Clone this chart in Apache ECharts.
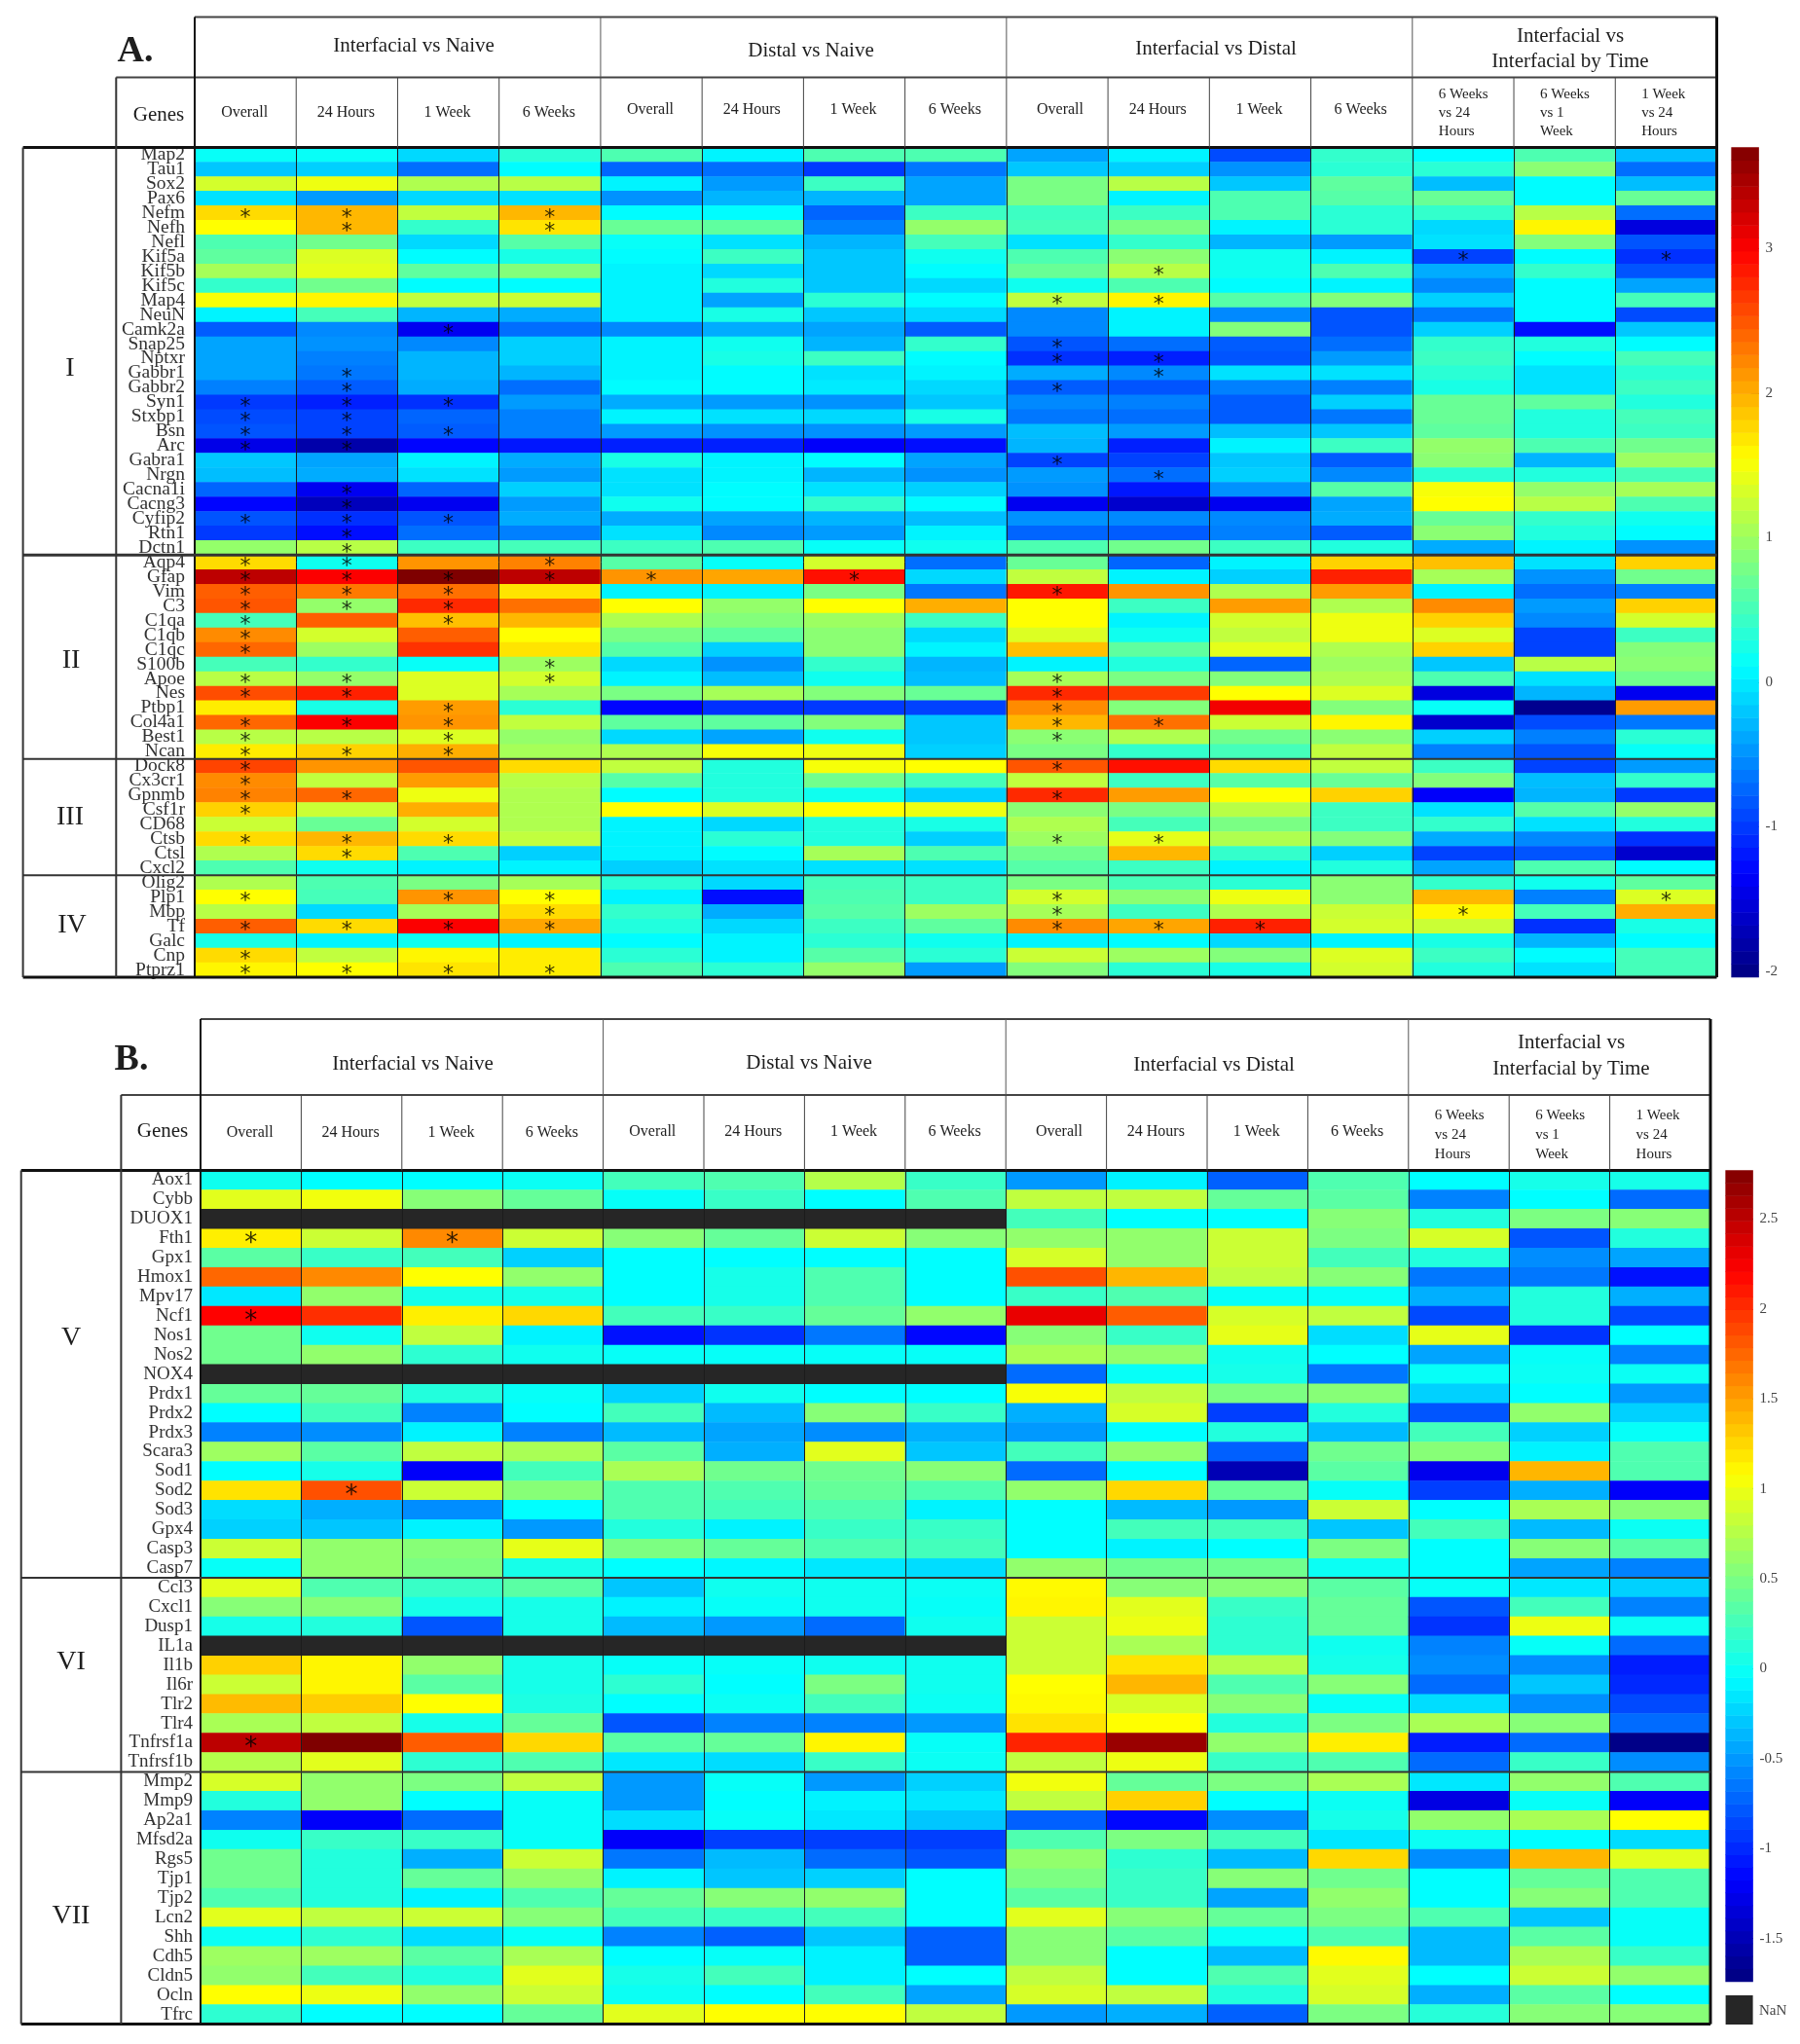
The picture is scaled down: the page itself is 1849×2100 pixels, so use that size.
<!DOCTYPE html>
<html><head><meta charset="utf-8">
<style>html,body{margin:0;padding:0;background:#fff}#c{width:1849px;height:2100px}</style>
<script src="https://cdn.jsdelivr.net/npm/echarts@6/dist/echarts.min.js"></script>
</head><body><div id="c"></div>
<script>
// ---------- categories ----------
const genesA = ['Map2','Tau1','Sox2','Pax6','Nefm','Nefh','Nefl','Kif5a','Kif5b','Kif5c','Map4','NeuN','Camk2a','Snap25','Nptxr','Gabbr1','Gabbr2','Syn1','Stxbp1','Bsn','Arc','Gabra1','Nrgn','Cacna1i','Cacng3','Cyfip2','Rtn1','Dctn1',
 'Aqp4','Gfap','Vim','C3','C1qa','C1qb','C1qc','S100b','Apoe','Nes','Ptbp1','Col4a1','Best1','Ncan',
 'Dock8','Cx3cr1','Gpnmb','Csf1r','CD68','Ctsb','Ctsl','Cxcl2',
 'Olig2','Plp1','Mbp','Tf','Galc','Cnp','Ptprz1'];
const genesB = ['Aox1','Cybb','DUOX1','Fth1','Gpx1','Hmox1','Mpv17','Ncf1','Nos1','Nos2','NOX4','Prdx1','Prdx2','Prdx3','Scara3','Sod1','Sod2','Sod3','Gpx4','Casp3','Casp7',
 'Ccl3','Cxcl1','Dusp1','IL1a','Il1b','Il6r','Tlr2','Tlr4','Tnfrsf1a','Tnfrsf1b',
 'Mmp2','Mmp9','Ap2a1','Mfsd2a','Rgs5','Tjp1','Tjp2','Lcn2','Shh','Cdh5','Cldn5','Ocln','Tfrc'];
const columnLabels = ['Overall','24 Hours','1 Week','6 Weeks','Overall','24 Hours','1 Week','6 Weeks','Overall','24 Hours','1 Week','6 Weeks','6 Weeks\nvs 24\nHours','6 Weeks\nvs 1\nWeek','1 Week\nvs 24\nHours'];
const groupLabels = ['Interfacial vs Naive','Distal vs Naive','Interfacial vs Distal','Interfacial vs\nInterfacial by Time'];
const ticksA = [-2,-1,0,1,2,3];
const ticksB = [-1.5,-1,-0.5,0,0.5,1,1.5,2,2.5];

// ---------- panel A values, one list per column ----------
const a1 = [.15,-.2,1.3,-.05,1.75,1.55,.55,.65,1.05,.4,1.5,.05,-.8,-.4,-.4,-.4,-.6,-1,-.9,-.85,-1.45,-.2,-.25,-.75,-1.3,-.85,-1,.95,
 1.75,3.35,2.45,2.5,.5,2.2,2.4,.5,1.15,2.55,1.65,2.4,1.15,1.65, 2.6,2.2,2.25,1.8,1.25,1.75,1.1,.55, 1.1,1.55,1.15,2.45,.25,1.75,1.6];
const a2 = [.15,-.15,1.45,-.45,1.95,1.95,.75,1.35,1.4,.75,1.6,.5,-.55,-.5,-.6,-.65,-.8,-1.15,-.95,-.95,-1.8,-.4,-.35,-1.4,-1.7,-1.05,-1.25,1.15,
 .2,3,2.3,.95,2.45,1.3,1,.4,.95,2.8,.25,3,1.15,1.8, 2.15,1.2,2.4,1.25,.7,1.95,1.75,.2, .55,.5,-.1,1.75,.05,1.2,1.55];
const a3 = [-.1,-.7,1.1,-.1,1.2,.4,-.1,.1,.65,.1,1.2,-.3,-1.4,-.55,-.3,-.3,-.35,-1.05,-.75,-.8,-1.3,.05,-.05,-.75,-1.4,-.85,-.7,.45,
 2.15,3.7,2.35,2.75,1.9,2.45,2.7,.15,1.35,1.35,2.1,2.15,1.35,2, 2.5,2.1,1.45,2,1.3,1.75,.55,.05, .8,2.15,1.05,3,.2,1.6,1.7];
const a4 = [.35,.1,1.15,-.05,1.95,1.7,.6,.25,.85,.1,1.25,-.35,-.7,-.15,-.15,-.3,-.7,-.45,-.6,-.6,-1.2,-.35,-.45,-.15,-.45,-.35,-.6,.5,
 2.25,3.35,1.7,2.35,1.95,1.55,1.7,1,1.3,1.05,.35,1.2,.95,1.05, 1.75,1.15,1.1,1.1,1.1,1.2,-.15,.05, 1.05,1.55,1.75,2.05,.05,1.65,1.65];
const a5 = [.55,-.75,.05,-.5,.1,.7,.15,.1,.05,.05,.05,.05,-.55,.05,.05,.05,.1,-.35,.05,-.45,-1.15,.25,-.05,-.05,.2,-.35,-.05,.45,
 .6,2.15,.05,1.55,1.1,.8,.6,-.1,.05,.8,-1.3,.65,-.1,1.1, 1.2,.6,.1,1.55,.05,.05,.05,-.15, .35,.05,.4,.3,.1,.35,.55];
const a6 = [.05,-.7,-.45,-.3,.1,.65,-.05,.45,-.1,.3,-.4,.25,-.35,.2,.25,.1,.1,-.45,-.05,-.5,-1.15,.05,.05,.1,.1,-.4,-.55,.55,
 .15,2.05,.05,.95,.85,.65,-.15,-.5,-.25,1.05,-1.05,.65,-.4,1.5, .3,.3,.3,1.35,-.1,.35,.1,-.05, -.1,-1.25,-.35,-.1,.05,.05,.35];
const a7 = [.55,-1,.45,-.3,-.75,-.6,-.3,-.2,-.2,-.2,.35,-.2,-.4,-.3,.45,-.05,0,-.5,-.1,-.5,-1.35,.1,-.3,-.05,.4,-.3,-.45,.15,
 1.3,2.9,.8,1.55,1,.9,.9,.4,.2,.85,-1,.85,.2,1.45, 1.5,.75,.2,1.55,.3,.3,1.05,-.05, .5,.55,.6,.45,.35,.6,.95];
const a8 = [.55,-.65,-.4,-.4,.45,.95,.5,.2,.1,-.1,.1,-.1,-.8,.4,.1,.05,-.1,-.2,.25,-.45,-1.25,-.4,-.5,-.15,.1,-.25,.05,.2,
 -.7,-.1,-.65,2,.45,-.1,.05,-.3,-.25,.7,-.95,-.2,-.2,-.15, 1.55,.5,-.15,1.45,.25,-.15,.55,-.05, .45,.45,1,.65,.2,.35,-.45];
const a9 = [-.4,-.2,.8,.8,.45,.5,-.05,.55,.7,.2,1.2,-.55,-.55,-.85,-1.05,-.35,-.8,-.55,-.65,-.25,-.3,-.95,-.45,-.5,-1.4,-.5,-.75,.55,
 .7,1.2,2.85,1.55,1.55,1.35,1.9,.05,1.05,2.75,2.2,1.95,.9,.8, 2.5,1.2,2.75,.9,1.1,1,.75,.6, .8,1.3,1.05,2.2,.05,1.25,.85];
const a10 = [.05,-.15,1.15,.05,.45,.8,.4,.9,1.15,.55,1.6,.05,.05,-.7,-1.15,-.55,-.85,-.6,-.7,-.45,-1.15,-.95,-.7,-1.2,-1.6,-.55,-.8,.75,
 -.75,.05,2.15,.45,.05,.2,.65,.3,.8,2.65,.85,2.35,1.1,.4, 2.9,.45,2.1,.8,.5,1.4,1.95,.45, .5,.9,.45,2.05,.1,1,.35];
const a11 = [-.9,-.5,-.2,.55,.55,.05,-.3,.2,.2,.1,.6,-.55,.85,-.8,-.85,-.05,-.6,-.8,-.8,-.25,.05,-.2,-.15,-.5,-1.4,-.55,-.6,.45,
 .05,-.15,1.1,2.1,1.3,1.2,1.4,-.75,.85,1.55,3.05,1.25,.75,.5, 1.75,.6,1.55,1.15,.8,1.1,.4,.05, .35,1.45,1.1,2.8,-.1,.85,.25];
const a12 = [.4,.35,.65,.6,.35,.35,-.45,.05,.55,.05,.85,-.85,-.85,-.7,-.45,-.05,-.6,-.15,-.65,-.2,.45,-.8,-.55,.6,-.4,-.35,-.8,.3,
 1.8,2.8,2.1,1.1,1.45,1.45,1.1,1,1.1,1.35,.85,1.6,.9,1.2, 1.2,.7,1.8,.45,.45,.85,-.15,.3, .9,.9,1.25,1.3,.05,1.35,1.3];
const a13 = [.1,.35,-.25,.7,.4,-.1,-.05,-.95,-.35,-.55,-.15,-.65,-.15,.4,.45,.35,.25,.7,.7,.65,.95,.9,.35,1.5,1.55,.7,.9,-.35,
 1.9,1.05,.05,2.2,1.8,1.35,1.8,-.2,.55,-1.5,.15,-1.6,-.15,-.6, .45,.85,-1.35,-.05,.4,-.35,-.95,-.4, .4,1.95,1.6,1.25,.25,.45,.3];
const a14 = [.55,.9,.1,.1,1.15,1.6,.85,.1,.4,.1,.1,.1,-1.25,.3,.1,-.05,-.05,.65,.3,.3,.55,-.3,.3,.95,1.15,.4,.3,.05,
 -.05,-.5,-.7,-.45,-.55,-.95,-.95,1.15,-.05,-.3,-1.95,-.9,-.6,-.85, -.95,-.25,-.3,.6,-.05,-.55,-.85,.55, .2,-.6,.5,-1.05,-.3,.1,-.05];
const a15 = [-.25,-.7,-.25,.7,-.7,-1.5,-.85,-1.05,-.85,-.4,.5,-.9,-.2,.1,.5,.35,.45,.3,.5,.45,.75,1,.5,1.05,.55,.2,.1,-.5,
 1.8,.75,-.6,1.8,1.3,.45,.85,.9,.75,-1.4,2.1,-.65,.35,.15, -.45,.4,-1,.95,.3,-1.05,-1.6,.1, .65,1.35,2,.25,.1,.5,.5];

// ---------- panel B values, one list per column (null = NaN) ----------
const b1 = [.02,.95,null,1.15,.35,1.75,-.15,2.2,.45,.45,null,.4,-.05,-.6,.65,-.05,1.2,-.2,-.25,.85,-.02, .95,.55,.05,null,1.28,.85,1.38,.7,2.5,.75, .9,.1,-.6,.02,.45,.45,.3,.95,0,.65,.6,1.08,.15];
const b2 = [-.05,1.02,null,.85,.2,1.6,.6,2,.02,.6,null,.4,.25,-.55,.35,.05,1.85,-.4,-.3,.6,.6, .3,.55,.1,null,1.12,1.12,1.3,.8,2.77,.95, .6,.6,-1.2,.2,.1,.1,.1,.8,.15,.65,.25,1,-.05];
const b3 = [-.05,.55,null,1.6,.25,1.08,.05,1.15,.8,.15,null,.1,-.6,-.1,.8,-1.2,.85,-.55,-.1,.55,.5, .2,.05,-.8,null,.6,.35,1.08,.05,1.8,.15, .5,-.05,-.7,.2,-.4,.4,-.1,.85,-.2,.35,.1,.6,-.05];
const b4 = [0,.4,null,.85,-.25,.6,.05,1.25,-.1,.02,null,-.02,-.05,-.6,.7,.25,.55,-.05,-.5,.97,.05, .35,.05,.05,null,.05,.05,.08,.4,1.25,.3, .8,-.02,-.02,-.02,.85,.6,.3,.55,-.02,.7,.95,.85,.4];
const b5 = [.25,-.02,null,.55,-.05,-.05,-.05,.25,-1.1,-.02,null,-.25,.25,-.35,.35,.7,.3,.3,.1,.5,-.05, -.3,-.1,-.35,null,-.02,.15,-.05,-.8,.35,-.15, -.5,-.5,-.2,-1.2,-.65,-.1,.4,.25,-.6,-.05,.05,0,.95];
const b6 = [.3,.2,null,.4,-.05,.05,.05,.2,-.95,-.02,null,.02,-.35,-.45,-.4,.45,.3,.25,-.1,.4,-.08, .02,-.02,-.5,null,-.02,-.05,0,-.6,.4,-.2, -.02,-.05,-.02,-.9,-.35,-.3,.55,.2,-.75,-.02,.25,-.05,1.08];
const b7 = [.75,-.05,null,.85,-.05,.3,.3,.4,-.65,-.02,null,-.05,.55,-.55,.95,.45,.4,.3,.2,.3,-.15, .02,.02,-.7,null,.02,.5,.25,-.6,1.12,.2, -.5,-.1,-.15,-.9,-.7,-.25,.6,.25,-.3,-.1,-.1,.25,1.08];
const b8 = [.2,.3,null,.55,-.05,-.05,-.05,.6,-1.15,-.02,null,-.05,.2,-.4,-.3,.55,.3,-.1,.2,.25,-.2, 0,-.02,.02,null,.02,.02,0,-.5,-.02,0, -.25,-.15,-.3,-.9,-.8,-.05,-.05,-.05,-.75,-.75,-.05,-.45,.8];
const b9 = [-.5,.8,.25,.6,.9,1.85,.2,2.3,.55,.7,-.7,1.05,-.4,-.5,.25,-.7,.6,-.05,-.05,-.05,.6, 1.1,1.12,.85,.85,.85,1.08,1.1,1.2,2.05,.8, 1.02,.8,-.75,.3,.6,.5,.35,.95,.55,.55,.8,.9,-.5];
const b10 = [-.1,.8,-.05,.6,.6,1.4,.3,1.8,.2,.6,-.02,.8,.9,-.05,.6,-.05,1.25,-.35,.25,-.1,.45, .55,.95,1,.7,1.2,1.4,.9,1.08,2.65,1, .4,1.28,-1.15,.5,.15,.2,.2,.55,.35,-.05,-.05,.8,-.4];
const b11 = [-.75,.4,-.05,.85,.85,.8,-.02,.9,.97,.02,.05,.5,-.9,.1,-.75,-1.5,.4,-.5,.25,-.05,.45, .55,.2,.15,.15,.75,.3,.55,.1,.6,.2, .5,-.05,-.55,.25,-.35,.55,-.45,.4,-.02,-.35,.3,.1,-.75];
const b12 = [.3,.35,.55,.5,.25,.55,-.02,.8,-.2,-.05,-.65,.55,.1,-.35,.45,.35,-.02,.85,-.3,.5,0, .35,.4,.4,.02,.05,.55,-.02,.5,1.15,.3, .7,0,.05,-.15,1.25,.45,.6,.5,.3,1.1,.95,.9,.5];
const b13 = [-.05,-.6,.1,.9,.1,-.65,-.4,-.85,.97,-.45,-.02,-.25,-.8,.25,.55,-1.25,-.9,-.05,.25,-.05,-.05, -.02,-.8,-.95,-.6,-.55,-.7,-.2,.7,-1.05,-.7, -.15,-1.3,.6,0,-.55,-.05,-.05,.3,-.35,-.35,-.05,-.4,.12];
const b14 = [.05,-.05,.5,-.8,-.55,-.65,.1,.1,-.95,-.02,0,-.05,.6,-.25,-.1,1.4,-.4,.7,-.35,.55,-.45, -.15,.25,1,-.02,-.55,-.3,-.55,.55,-.7,.2, .6,-.02,.7,-.05,1.4,.4,.55,-.3,.35,.7,.85,.35,.55];
const b15 = [.05,-.7,.55,.1,-.45,-1.1,-.4,-.85,-.05,-.6,0,-.5,-.25,-.02,.3,.3,-1.2,.55,0,.35,-.6, -.25,-.6,0,-.7,-1.05,-1,-.85,-.7,-1.7,-.55, .3,-1.2,1.08,-.2,.95,.3,.3,-.02,-.02,.2,.6,-.05,.55];

// ---------- significance stars: gene, then column indexes ----------
const starsA = [['Nefm',0,1,3],['Nefh',1,3],['Kif5a',12,14],['Kif5b',9],['Map4',8,9],['Camk2a',2],['Snap25',8],['Nptxr',8,9],['Gabbr1',1,9],['Gabbr2',1,8],['Syn1',0,1,2],['Stxbp1',0,1],['Bsn',0,1,2],['Arc',0,1],['Gabra1',8],['Nrgn',9],['Cacna1i',1],['Cacng3',1],['Cyfip2',0,1,2],['Rtn1',1],['Dctn1',1],
 ['Aqp4',0,1,3],['Gfap',0,1,2,3,4,6],['Vim',0,1,2,8],['C3',0,1,2],['C1qa',0,2],['C1qb',0],['C1qc',0],['S100b',3],['Apoe',0,1,3,8],['Nes',0,1,8],['Ptbp1',2,8],['Col4a1',0,1,2,8,9],['Best1',0,2,8],['Ncan',0,1,2],
 ['Dock8',0,8],['Cx3cr1',0],['Gpnmb',0,1,8],['Csf1r',0],['Ctsb',0,1,2,8,9],['Ctsl',1],['Plp1',0,2,3,8,14],['Mbp',3,8,12],['Tf',0,1,2,3,8,9,10],['Cnp',0],['Ptprz1',0,1,2,3]];
const starsB = [['Fth1',0,2],['Ncf1',0],['Sod2',1],['Tnfrsf1a',0]];

// ---------- build ----------
const columnsA = [a1,a2,a3,a4,a5,a6,a7,a8,a9,a10,a11,a12,a13,a14,a15];
const columnsB = [b1,b2,b3,b4,b5,b6,b7,b8,b9,b10,b11,b12,b13,b14,b15];
const SERIF = '"Liberation Serif","Times New Roman",serif';
const jet = ['#00007f','#0000ff','#007fff','#00ffff','#7fff7f','#ffff00','#ff7f00','#ff0000','#7f0000'];
const LEVELS = Array.from({length:64},(_,i)=>String(i));

function cells(cols){const o=[],n=[];cols.forEach((c,x)=>c.forEach((v,y)=>{if(v===null)n.push([x,y,0]);else o.push([x,y,v]);}));return [o,n];}
function starCells(list,genes){const o=[];list.forEach(s=>s.slice(1).forEach(c=>o.push([c,genes.indexOf(s[0])])));return o;}
function barCells(min,max){return LEVELS.map((_,i)=>[0,i,min+(i+.5)*(max-min)/64]);}

const P = {
 A:{genes:genesA,cols:columnsA,stars:starsA,min:-2.04,max:3.7,ticks:ticksA,left:200,top:151.5,w:1563.5,h:852.5,barLeft:1778.6,barH:852.5,starFont:22},
 B:{genes:genesB,cols:columnsB,stars:starsB,min:-1.74,max:2.77,ticks:ticksB,left:206,top:1202.5,w:1551,h:877,barLeft:1772.6,barH:833.5,starFont:26}
};
const grid=[],xAxis=[],yAxis=[],series=[],visualMap=[];
['A','B'].forEach((k,pi)=>{
 const p=P[k], g0=grid.length, x0=xAxis.length, y0=yAxis.length;
 grid.push({left:p.left,top:p.top,width:p.w,height:p.h},{left:p.barLeft,top:p.top,width:28,height:p.barH});
 xAxis.push({type:'category',gridIndex:g0,data:columnLabels,z:4,axisLine:{show:false},axisTick:{show:false},axisLabel:{show:false},
   splitLine:{show:true,interval:0,lineStyle:{color:'#1c1c1c',width:1}}},
   {type:'category',gridIndex:g0+1,data:['c'],axisLine:{show:false},axisTick:{show:false},axisLabel:{show:false}});
 yAxis.push({type:'category',gridIndex:g0,data:p.genes,inverse:true,axisLine:{show:false},axisTick:{show:false},
   axisLabel:{interval:0,fontFamily:SERIF,fontSize:k==='A'?19.5:19,color:'#333',margin:k==='A'?10:8,lineHeight:19}},
   {type:'category',gridIndex:g0+1,data:LEVELS,axisLine:{show:false},axisTick:{show:false},axisLabel:{show:false}},
   {type:'value',gridIndex:g0+1,position:'right',min:p.min,max:p.max,axisLine:{show:false},splitLine:{show:false},
    axisTick:{show:true,inside:true,length:8,customValues:p.ticks,lineStyle:{color:'#333',width:1}},
    axisLabel:{customValues:p.ticks,fontFamily:SERIF,fontSize:15,color:'#444',margin:7}});
 const [vals,nans]=cells(p.cols);
 const si=series.length;
 series.push(
  {name:k+' values',type:'heatmap',xAxisIndex:x0,yAxisIndex:y0,data:vals,progressive:0,silent:true},
  {name:k+' colour bar',type:'heatmap',xAxisIndex:x0+1,yAxisIndex:y0+1,data:barCells(p.min,p.max),progressive:0,silent:true},
  {name:k+' significance',type:'scatter',xAxisIndex:x0,yAxisIndex:y0,data:starCells(p.stars,p.genes),symbol:'circle',symbolSize:1,z:6,silent:true,
   itemStyle:{color:'rgba(0,0,0,0)'},
   label:{show:true,position:'inside',formatter:'*',fontFamily:'"DejaVu Sans",sans-serif',fontSize:p.starFont,color:'#000',offset:[0,Math.round(p.starFont*.22)]}}
 );
 if(nans.length) series.push({name:k+' NaN',type:'heatmap',xAxisIndex:x0,yAxisIndex:y0,data:nans,progressive:0,silent:true,itemStyle:{color:'#262626'}});
 visualMap.push({type:'continuous',show:false,min:p.min,max:p.max,dimension:2,seriesIndex:[si,si+1],inRange:{color:jet}});
});

// ---------- table frame and header text ----------
const gfx=[];
const line=(x1,y1,x2,y2,w,c)=>gfx.push({type:'line',silent:true,z:10,shape:{x1,y1,x2,y2},style:{stroke:c||'#222',lineWidth:w}});
const text=(t,x,y,size,opt)=>gfx.push({type:'text',silent:true,z:11,x,y,style:Object.assign({text:t,fontFamily:SERIF,fontSize:size,fill:'#1e1e1e',align:'center',verticalAlign:'middle',lineHeight:Math.round(size*1.22)},opt||{})});

function frame(L){
 const cw=L.w/15, R=L.left+L.w, B=L.top+L.h;
 line(L.left,L.y0,R,L.y0,2,'#444'); line(L.genesX,L.y1,R,L.y1,2,'#444');
 line(L.outerX,L.top,R,L.top,3,'#111'); line(L.outerX,B,R,B,3,'#111');
 line(L.left,L.y0,L.left,B,2,'#111'); line(L.genesX,L.y1,L.genesX,B,2,'#333'); line(L.outerX,L.top,L.outerX,B,2,'#333');
 line(R,L.y0,R,B,3,'#111');
 [4,8,12].forEach(i=>line(L.left+cw*i,L.y0,L.left+cw*i,L.y1,1,'#555'));
 for(let i=1;i<15;i++) line(L.left+cw*i,L.y1,L.left+cw*i,L.top,1,'#444');
 L.rules.forEach((n,i)=>line(L.outerX,L.top+L.h*n/L.n,R,L.top+L.h*n/L.n,i===0&&L.heavy?3:2,'#333'));
 L.romans.forEach(r=>text(r[0],r[1],r[2],28));
 text(L.tag,L.tagX,L.tagY,38,{fontWeight:'bold'});
 text('Genes',L.genesTx,L.genesTy,21);
 groupLabels.forEach((g,i)=>text(g,L.grpX[i],L.grpY[i],21,i===3?{lineHeight:L.grpLH}:{}));
 columnLabels.forEach((c,i)=>{
  if(i<12) text(c,L.left+cw*(i+.5)+(i===8?3:-1),i<4?L.subY0:L.subY,16);
  else text(c,L.left+cw*i+27,L.subY+3,15,{align:'left',lineHeight:L.subLH});
 });
}
frame({left:200,top:151.5,w:1563.5,h:852.5,y0:17.5,y1:79.5,genesX:119.3,outerX:23.6,n:57,rules:[28,42,50],heavy:true,
 romans:[['I',72,379],['II',73,679],['III',72,840],['IV',74,951]],tag:'A.',tagX:139,tagY:53,genesTx:163,genesTy:118,
 grpX:[425,833,1249,1613],grpY:[47,52,50,50],grpLH:26,subY0:116,subY:113,subLH:19});
frame({left:206,top:1202.5,w:1551,h:877,y0:1047,y1:1125,genesX:124.4,outerX:21.7,n:44,rules:[21,31],heavy:false,
 romans:[['V',73,1375],['VI',73,1708],['VII',73,1969]],tag:'B.',tagX:135,tagY:1089,genesTx:167,genesTy:1162,
 grpX:[424,831,1247,1614],grpY:[1093,1092,1094,1085],grpLH:27,subY0:1164,subY:1163,subLH:20});
// NaN key
gfx.push({type:'rect',silent:true,z:10,shape:{x:1772.6,y:2050,width:28,height:30},style:{fill:'#262626'}});
text('NaN',1807,2066,15,{align:'left',fill:'#444'});

const chart=echarts.init(document.getElementById('c'),null,{renderer:'canvas',width:1849,height:2100});
chart.setOption({animation:false,backgroundColor:'#fff',tooltip:{show:false},grid,xAxis,yAxis,visualMap,series,graphic:{elements:gfx}});
</script></body></html>
